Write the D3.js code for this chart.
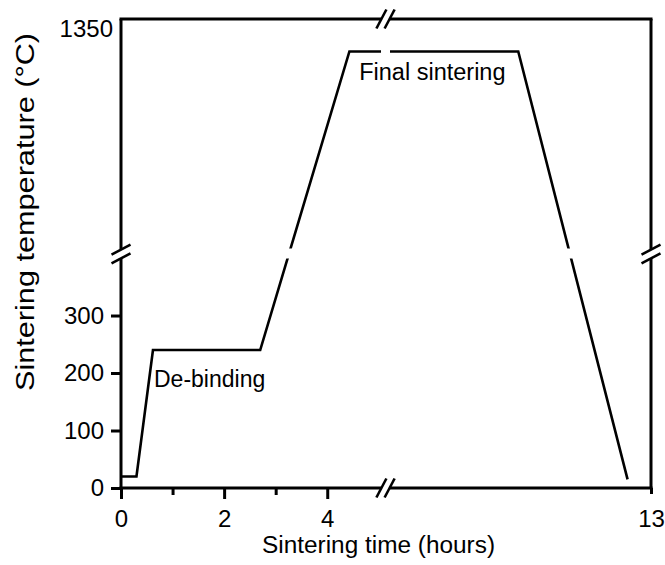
<!DOCTYPE html>
<html>
<head>
<meta charset="utf-8">
<script src="https://cdn.jsdelivr.net/npm/d3@7"></script>
<style>
  body { margin: 0; background: #fff; }
  svg { display: block; }
  text { font-family: "Liberation Sans", Arial, sans-serif; fill: #000; }
</style>
</head>
<body>
<svg id="chart" width="665" height="565"></svg>
<script>
// Sintering schedule: time (hours) vs. furnace temperature (°C)
const profileTime = [0, 0.3, 0.62, 2.7, 4.43, 10.45, 12.55];
const profileTemp = [20, 20, 240, 240, 1300, 1300, 15];

// Broken axes: the omitted ranges between the two halves
const timeBreak = [5.13, 7.9];
const tempBreak = [407, 850];

// Tick values
const xLabeledTicks = [0, 2, 4, 13];
const xMinorTicks = [1, 3];
const yTicks = [0, 100, 200, 300];
const yTopTick = [1350];

const stageNames = ["De-binding", "Final sintering"];
const xTitle = "Sintering time (hours)";
const yTitle = "Sintering temperature (°C)";

// Layout
const plot = { left: 121, right: 651, top: 19, bottom: 488 };
const breakX = 385.5, breakY = 254;
const tickFont = 24;

const svg = d3.select("#chart");

const x = d3.scaleLinear()
  .domain([0, timeBreak[0], timeBreak[1], 13])
  .range([plot.left, breakX, breakX, plot.right]);

const y = d3.scaleLinear()
  .domain([0, tempBreak[0], tempBreak[1], 1350])
  .range([plot.bottom, breakY, breakY, 29]);

// ---- Frame with break gaps ----
const frame = svg.append("g")
  .attr("stroke", "#000").attr("stroke-width", 3).attr("fill", "none");
const hw = 1.5;
const segs = [
  // top
  [[plot.left - hw, plot.top], [breakX - 4.5, plot.top]],
  [[breakX + 4.5, plot.top], [plot.right + hw, plot.top]],
  // bottom
  [[plot.left - hw, plot.bottom], [breakX - 3.8, plot.bottom]],
  [[breakX + 3.8, plot.bottom], [plot.right + hw, plot.bottom]],
  // left
  [[plot.left, plot.top], [plot.left, breakY - 4.6]],
  [[plot.left, breakY + 4.4], [plot.left, plot.bottom]],
  // right
  [[plot.right, plot.top], [plot.right, breakY - 4]],
  [[plot.right, breakY + 4], [plot.right, plot.bottom]]
];
segs.forEach(s => frame.append("line")
  .attr("x1", s[0][0]).attr("y1", s[0][1])
  .attr("x2", s[1][0]).attr("y2", s[1][1]));

// ---- Break marks ("//") ----
const slashes = svg.append("g")
  .attr("stroke", "#000").attr("stroke-width", 2.6).attr("stroke-linecap", "butt");
function hSlashes(cx, cy) {
  [-4.1, 4.1].forEach(o => slashes.append("line")
    .attr("x1", cx + o - 5).attr("y1", cy + 9.5)
    .attr("x2", cx + o + 5).attr("y2", cy - 9.5));
}
function vSlashes(cx, cy) {
  [-4.4, 4.4].forEach(o => slashes.append("line")
    .attr("x1", cx - 9.5).attr("y1", cy + o + 5)
    .attr("x2", cx + 9.5).attr("y2", cy + o - 5));
}
hSlashes(breakX, plot.top);
hSlashes(breakX, plot.bottom);
vSlashes(plot.left, breakY);
vSlashes(plot.right, breakY);

// ---- Bottom axis ----
const xAxis = svg.append("g")
  .attr("transform", `translate(0,${plot.bottom})`)
  .call(d3.axisBottom(x)
    .tickValues([...xLabeledTicks, ...xMinorTicks].sort((a, b) => a - b))
    .tickSize(11)
    .tickFormat(d => xLabeledTicks.includes(d) ? d3.format("d")(d) : ""));
xAxis.select(".domain").remove();
xAxis.selectAll(".tick line")
  .attr("y2", d => xMinorTicks.includes(d) ? 7 : (d === 13 ? 6 : 11))
  .attr("stroke", "#000")
  .attr("stroke-width", 3);
xAxis.selectAll(".tick text")
  .attr("y", 39).attr("dy", null)
  .attr("font-size", tickFont)
  .attr("font-family", null)
  .attr("fill", "#000");

// ---- Left axis ----
const yAxis = svg.append("g")
  .attr("transform", `translate(${plot.left},0)`)
  .call(d3.axisLeft(y)
    .tickValues([...yTicks, ...yTopTick])
    .tickSize(10)
    .tickFormat(d3.format("d")));
yAxis.select(".domain").remove();
yAxis.selectAll(".tick line")
  .attr("stroke", "#000").attr("stroke-width", 3)
  .attr("x2", d => yTopTick.includes(d) ? 0 : -10);
yAxis.selectAll(".tick text")
  .attr("font-size", tickFont)
  .attr("font-family", null)
  .attr("fill", "#000")
  .attr("x", d => yTopTick.includes(d) ? -8 : -17);

// ---- Profile line with gaps at the axis breaks ----
const defs = svg.append("defs");
const mask = defs.append("mask").attr("id", "break-gaps")
  .attr("maskUnits", "userSpaceOnUse")
  .attr("x", 0).attr("y", 0).attr("width", 665).attr("height", 565);
mask.append("rect").attr("width", 665).attr("height", 565).attr("fill", "#fff");
mask.append("rect")
  .attr("x", plot.left + 3).attr("width", plot.right - plot.left - 6)
  .attr("y", breakY - 5.5).attr("height", 10)
  .attr("fill", "#000");
mask.append("rect")
  .attr("x", breakX - 4.5).attr("width", 9)
  .attr("y", plot.top + 3).attr("height", plot.bottom - plot.top - 6)
  .attr("fill", "#000");

const pts = profileTime.map((t, i) => [t, profileTemp[i]]);
svg.append("path")
  .datum(pts)
  .attr("fill", "none")
  .attr("stroke", "#000")
  .attr("stroke-width", 2.6)
  .attr("stroke-linejoin", "miter")
  .attr("mask", "url(#break-gaps)")
  .attr("d", d3.line().x(d => x(d[0])).y(d => y(d[1])));

// ---- Stage annotations ----
svg.append("text")
  .attr("x", x(0.64)).attr("y", y(176))
  .attr("font-size", 23)
  .text(stageNames[0]);
svg.append("text")
  .attr("x", x(4.62)).attr("y", 80)
  .attr("font-size", 23.5)
  .text(stageNames[1]);

// ---- Axis titles ----
svg.append("text")
  .attr("x", 378.5).attr("y", 553)
  .attr("text-anchor", "middle")
  .attr("font-size", 23)
  .attr("textLength", 233).attr("lengthAdjust", "spacingAndGlyphs")
  .text(xTitle);
svg.append("text")
  .attr("transform", "translate(34,212) rotate(-90)")
  .attr("text-anchor", "middle")
  .attr("font-size", 25)
  .attr("textLength", 358).attr("lengthAdjust", "spacingAndGlyphs")
  .text(yTitle);
</script>
</body>
</html>
